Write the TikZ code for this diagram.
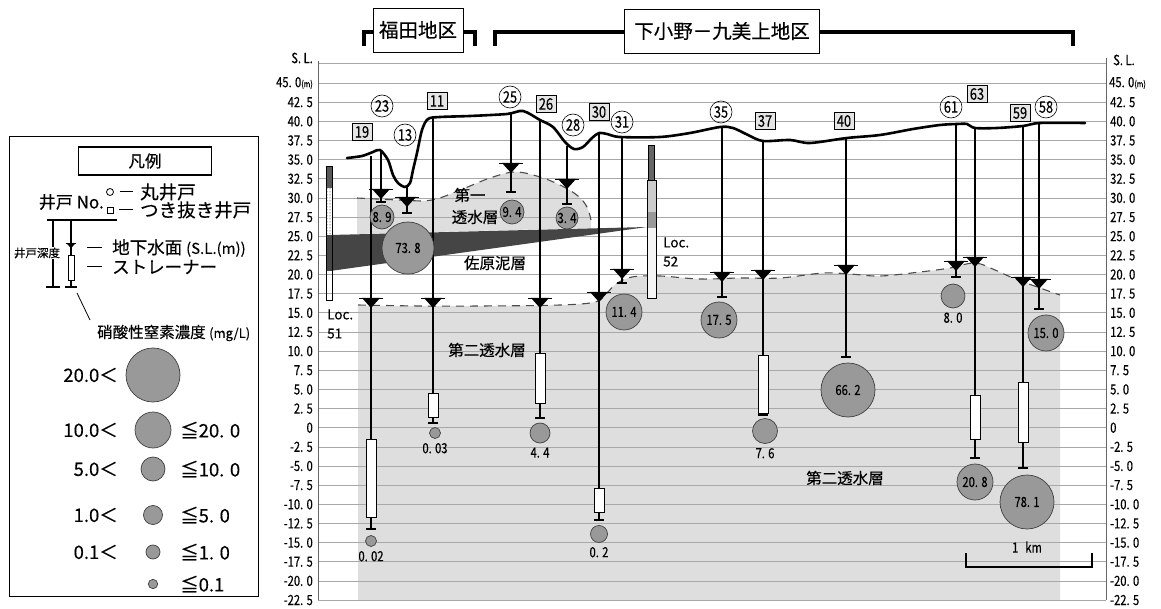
\documentclass[tikz,border=0pt]{standalone}
\usepackage{fontspec}
\setmainfont[FakeBold=0.3]{Noto Sans CJK JP}
\newfontfamily\gothnum[FakeStretch=0.8,FakeBold=0.4]{Noto Sans CJK JP}
\usetikzlibrary{positioning,calc,patterns}

\newcommand{\fsz}[1]{\fontsize{#1}{#1}\selectfont}

\definecolor{aquifer}{HTML}{DEDEDE}
\definecolor{clay}{HTML}{454545}
\definecolor{nitrate}{HTML}{999999}
\definecolor{gridline}{HTML}{A8A8A8}

\tikzset{
  areabox/.style={draw,fill=white,line width=0.8pt,minimum width=90pt,minimum height=44pt,inner sep=0pt,font=\fsz{19.5}},
  areabracket/.style={line width=4.5pt},
  gridrule/.style={gridline,line width=0.7pt},
  axislab/.style={inner sep=0pt,font=\gothnum\fsz{14}},
  ground/.style={line width=2.6pt,line join=round,line cap=round},
  pipe/.style={line width=1.5pt},
  pipeend/.style={line width=1.8pt},
  strainer/.style={draw,fill=white,line width=0.8pt},
  boundary/.style={black!70,line width=1.1pt,dash pattern=on 8pt off 6pt},
  conc/.style={circle,draw=black!75,fill=nitrate,line width=0.7pt,inner sep=0pt,font=\gothnum\fsz{14}},
  conclab/.style={inner sep=0pt,font=\gothnum\fsz{14}},
  roundno/.style={circle,draw,line width=0.6pt,minimum size=22pt,inner sep=0pt,font=\gothnum\fsz{16}},
  squareno/.style={draw,fill=black!10,line width=0.6pt,minimum width=20pt,minimum height=17pt,inner sep=0pt,font=\gothnum\fsz{16}},
  layername/.style={inner sep=0pt,font=\fsz{15.5}},
  loctext/.style={inner sep=0pt,align=left,font=\fontsize{13.5}{19}\selectfont},
  legtext/.style={inner sep=0pt,font=\fsz{18.5}},
  wlevel/.pic={
    \fill (-9,-5) -- (9,-5) -- (0,5) -- cycle;
    \draw[line width=0.7pt] (-12,-5) -- (12,-5);
  }
}

\begin{document}
\begin{tikzpicture}[x=1pt,y=-1pt]
\useasboundingbox (0,0) rectangle (1161,609);

% permeable layers
\fill[aquifer] plot[smooth,tension=0.6] coordinates {(358,306) (420,306) (480,306) (560,305) (595,302) (606,294) (616,284) (632,277) (660,276) (700,279) (740,278) (780,278) (823,273) (850,274) (880,276) (920,272) (950,268) (975,263) (995,270) (1013,278) (1040,288) (1060,295)} -- (1060,600) -- (358,600) -- cycle;
\fill[aquifer] plot[smooth,tension=0.6] coordinates {(357,198) (400,200) (432,200) (465,188) (490,178) (515,172) (540,177) (562,186) (578,196) (587,207) (591,220)} -- (591,228) -- (357,234) -- cycle;

% S.L. grid
\foreach \i in {-1,...,27}
  \draw[gridrule] (318,{83+\i*19.15}) -- (1106,{83+\i*19.15});
\draw[black!60,line width=0.8pt] (318,61) -- (318,600);
\draw[black!60,line width=0.8pt] (1106,58) -- (1106,600);

\node[axislab,anchor=east] (sl-l) at (313,58) {S. L.};
\node[axislab,anchor=west] (sl-r) at (1113,60) {S. L.};
\node[axislab,anchor=east] (l0) at (313,83) {45. 0{\fsz{9}(m)}};
\node[axislab,anchor=west] (r0) at (1109,83) {45. 0{\fsz{9}(m)}};
\foreach \lab [count=\i] in {42. 5,40. 0,37. 5,35. 0,32. 5,30. 0,27. 5,25. 0,22. 5,20. 0,17. 5,15. 0,12. 5,10. 0,7. 5,5. 0,2. 5,0,-2. 5,-5. 0,-7. 5,-10. 0,-12. 5,-15. 0,-17. 5,-20. 0,-22. 5}
{
  \node[axislab,anchor=east] (l\i) at (313,{83+\i*19.15}) {\lab};
  \node[axislab,anchor=west] (r\i) at (1110,{83+\i*19.15}) {\lab};
}

% layer boundaries
\draw[boundary] plot[smooth,tension=0.6] coordinates {(357,198) (400,200) (432,200) (465,188) (490,178) (515,172) (540,177) (562,186) (578,196) (587,207) (591,220)};
\draw[boundary] plot[smooth,tension=0.6] coordinates {(358,305) (420,306) (480,306) (560,305) (595,302) (606,294) (616,284) (632,277) (660,276) (700,279) (740,278) (780,278) (823,273) (850,274) (880,276) (920,272) (950,268) (975,263) (995,270) (1013,278) (1040,288) (1060,295)};

% mud layer
\fill[clay] (330,235) -- (647,227) -- (330,271) -- cycle;

% boring columns
\fill[black!65] (326,166) rectangle (332,188);
\fill[white] (326,188) rectangle (332,235);
\fill[pattern=dots] (326,188) rectangle (332,235);
\fill[clay] (326,235) rectangle (332,271);
\draw[line width=0.6pt] (326,166) rectangle (332,300);
\node[loctext,anchor=west] (loc51) at (327,324) {Loc.\\51};

\fill[black!60] (648,145) rectangle (654,180);
\fill[black!20] (647,180) rectangle (656,212);
\fill[black!40] (647,212) rectangle (656,228);
\fill[black!4] (647,228) rectangle (656,298);
\draw[line width=0.5pt] (648,145) rectangle (654,180);
\draw[line width=0.6pt] (647,180) rectangle (656,298);
\node[loctext,anchor=west] (loc52) at (663,252) {Loc.\\52};

% wells: number/x/ground/water level/bottom
\foreach \n/\x/\t/\w/\b in {19/371/156/303/529, 23/381/150/194/202, 13/407/186/202/213, 11/433/117/303/423, 25/511/114/168/192, 26/540/121/303/418, 28/567/146/184/204, 30/599/133/297/520, 31/622/137/274/283, 35/722/127/277/297, 37/763/141/275/415, 40/846/138/270/357, 61/956/124/266/277, 63/975/128/262/458, 59/1023/126/282/468, 58/1039/123/284/309}
{
  \coordinate (w\n-top) at (\x,\t);
  \coordinate (w\n-bot) at (\x,\b);
  \draw[pipe] (w\n-top) -- (w\n-bot);
  \draw[pipeend] ([xshift=-5pt]w\n-bot) -- ([xshift=5pt]w\n-bot);
  \pic at (\x,\w) {wlevel};
}
\foreach \x/\t/\b in {371/439/517, 433/393/417, 540/353/403, 599/488/512, 763/355/413, 975/395/439, 1023/382/442}
  \draw[strainer] (\x-5,\t) rectangle (\x+5,\b);

% ground surface
\draw[ground] plot[smooth,tension=0.5] coordinates {(347,158) (362,156) (373,152) (380,150) (388,160) (393,175) (398,183) (405,187) (410,183) (413,170) (417,153) (422,130) (428,119) (440,117) (470,116) (507,114) (523,111) (540,120) (553,127) (565,142) (574,149) (583,147) (592,138) (599,133) (607,134) (620,137) (660,137) (690,133) (720,127) (733,128) (748,135) (763,141) (790,140) (810,143) (847,138) (880,135) (913,129) (940,125) (957,124) (967,124) (975,128) (997,128) (1023,126) (1040,123) (1085,123)};

% nitrate concentration
\foreach \x/\y/\dm/\v [count=\i] in {382/217/24/8. 9, 408/248/52/73. 8, 512/212/24/9. 4, 567/218/22/3. 4, 624/312/36/11. 4, 719/320/36/17. 5, 848/390/54/66. 2, 975/482/36/20. 8, 1027/502/54/78. 1, 1046/333/36/15. 0}
  \node[conc,minimum size=\dm pt] (ci\i) at (\x,\y) {\v};
\foreach \x/\y/\dm/\v [count=\i] in {371/541/11/0. 02, 435/433/11/0. 03, 540/433/20/4. 4, 599/534/17/0. 2, 765/431/25/7. 6, 953/296/24/8. 0}
{
  \node[conc,minimum size=\dm pt] (cb\i) at (\x,\y) {};
  \node[conclab,below=4pt of cb\i] (cbl\i) {\v};
}

% well numbers
\foreach \n/\x/\y in {23/382/106, 13/405/135, 25/510/97, 28/573/125, 31/622/122, 35/721/112, 61/951/107, 58/1046/107}
  \node[roundno] (no\n) at (\x,\y) {\n};
\foreach \n/\x/\y in {19/362/132, 11/437/101, 26/546/104, 30/599/112, 37/765/121, 40/844/121, 63/977/94, 59/1020/113}
  \node[squareno] (no\n) at (\x,\y) {\n};

% layer names
\node[layername] (dai1a) at (470,195) {第一};
\node[layername] (dai1b) at (475,217) {透水層};
\node[layername] (sahara) at (495,263) {佐原泥層};
\node[layername] (dai2a) at (487,350) {第二透水層};
\node[layername] (dai2b) at (845,478) {第二透水層};

% scale
\coordinate (km-l) at (966,567);
\coordinate (km-r) at (1092,567);
\draw[line width=1.6pt] ([yshift=14pt]km-l) -- (km-l) -- (km-r) -- ([yshift=14pt]km-r);
\node[conclab] (km) at (1027,547) {1\hspace{7pt}km};

% districts
\node[areabox] (fukuda) at (418,30) {福田地区};
\node[areabox,minimum width=195pt] (shimo) at (722,31) {下小野－九美上地区};
\draw[areabracket] ([yshift=-2pt]fukuda.west) -| (364,46);
\draw[areabracket] ([yshift=-2pt]fukuda.east) -| (475,46);
\draw[areabracket] ([yshift=-1pt]shimo.west) -| (495,46);
\draw[areabracket] ([yshift=-1pt]shimo.east) -| (1073,46);

% legend
\draw[line width=1pt] (9,137) rectangle (258,596);
\node[draw,line width=1.8pt,minimum width=133pt,minimum height=28pt,inner sep=0pt,font=\fsz{16.5}] (hanrei) at (145,161) {凡例};
\node[legtext,anchor=east,font=\fsz{17}] (lg-no) at (104,202) {井戸 No.};
\node[circle,draw,line width=0.8pt,minimum size=7pt,inner sep=0pt] (lg-maru) at (110,192) {};
\node[draw,line width=0.8pt,minimum size=6pt,inner sep=0pt] (lg-kaku) at (110,210) {};
\node[legtext,anchor=west] (lg-marut) at (140,192) {丸井戸};
\node[legtext,anchor=west] (lg-kakut) at (140,210) {つき抜き井戸};
\draw[line width=1pt] ([xshift=6pt]lg-maru.east) -- ([xshift=-7pt]lg-marut.west);
\draw[line width=1pt] ([xshift=6pt]lg-kaku.east) -- ([xshift=-7pt]lg-kakut.west);

\coordinate (lg-topl) at (47,220);
\coordinate (lg-topr) at (117,220);
\coordinate (lg-dep) at (53,287);
\coordinate (lg-well) at (71,287);
\draw[line width=1.2pt] (lg-topl) -- (lg-topr);
\draw[line width=1.2pt] (lg-dep |- lg-topl) -- (lg-dep);
\draw[line width=1.2pt] ([xshift=-7pt]lg-dep) -- ([xshift=7pt]lg-dep);
\draw[line width=1.2pt] (lg-well |- lg-topl) -- (lg-well);
\draw[line width=1.2pt] ([xshift=-6pt]lg-well) -- ([xshift=6pt]lg-well);
\pic[scale=0.45] at (71,246) {wlevel};
\draw[strainer] (68,255) rectangle (74,280);
\node[inner sep=1pt,fill=white,font=\fsz{11.5}] (lg-depth) at (37,253) {井戸深度};
\node[legtext,anchor=west,font=\fsz{17.5}] (lg-wl) at (112,248) {地下水面 {\fsz{15}(S.L.(m))}};
\node[legtext,anchor=west,font=\fsz{17.5}] (lg-st) at (112,267) {ストレーナー};
\draw[line width=1pt] (87,248) -- ([xshift=-10pt]lg-wl.west);
\draw[line width=1pt] (87,267) -- ([xshift=-10pt]lg-st.west);
\draw[line width=0.8pt] (77,293) -- (90,320);
\node[legtext,anchor=west,font=\fsz{15.5}] (lg-no3) at (97,333) {硝酸性窒素濃度 {\fsz{13}(mg/L)}};

\foreach \y/\dm/\lo/\hi [count=\i] in {375/54/20.0＜/{}, 430/36/10.0＜/≦20. 0, 469/24/5.0＜/≦10. 0, 515/19/1.0＜/≦5. 0, 552/14/0.1＜/≦1. 0, 584/9.4/{}/≦0.1}
{
  \node[conc,minimum size=\dm pt] (lg-c\i) at (153,\y) {};
  \node[legtext,anchor=east] (lg-lo\i) at (118,\y) {\lo};
  \node[legtext,anchor=west] (lg-hi\i) at (180,\y) {\hi};
}
\end{tikzpicture}
\end{document}
